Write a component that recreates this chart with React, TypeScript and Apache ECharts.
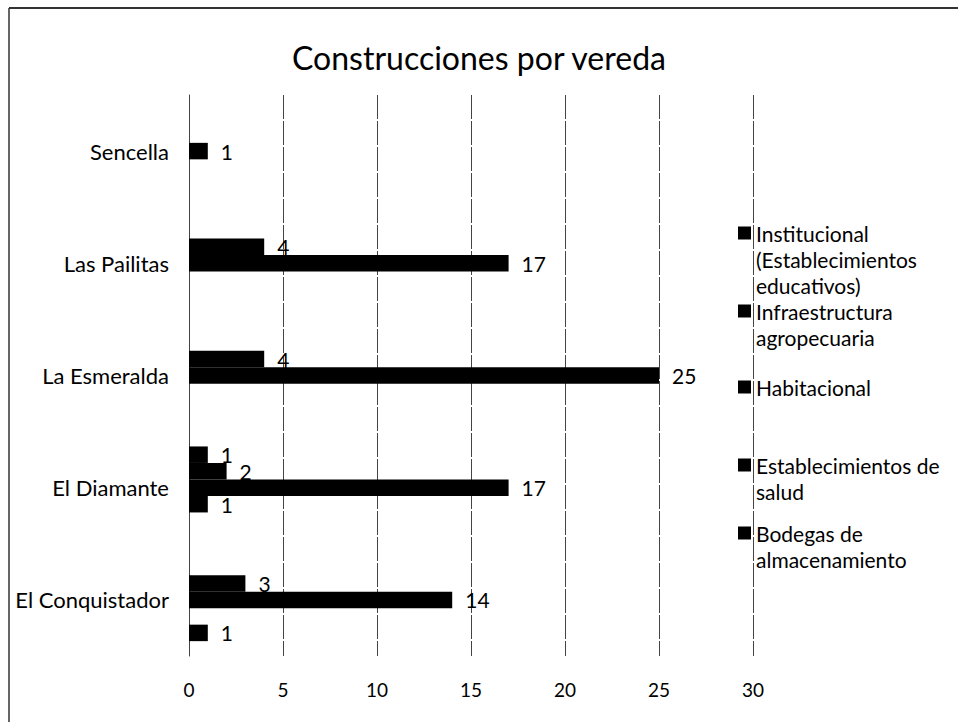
import React, { useEffect, useRef } from "react";
import * as echarts from "echarts";

const categories = ["El Conquistador", "El Diamante", "La Esmeralda", "Las Pailitas", "Sencella"];
const institucional = [0, 1, 0, 0, 0];
const infraestructura = [3, 2, 4, 4, 0];
const habitacional = [14, 17, 25, 17, 1];
const salud = [0, 1, 0, 0, 0];
const bodegas = [1, 0, 0, 0, 0];
const xTicks = [0, 5, 10, 15, 20, 25, 30];

const seriesNames = [
  "Institucional (Establecimientos educativos)",
  "Infraestructura agropecuaria",
  "Habitacional",
  "Establecimientos de salud",
  "Bodegas de almacenamiento",
];
const legendLines = [
  ["Institucional", "(Establecimientos", "educativos)"],
  ["Infraestructura", "agropecuaria"],
  ["Habitacional"],
  ["Establecimientos de", "salud"],
  ["Bodegas de", "almacenamiento"],
];
const seriesValues = [institucional, infraestructura, habitacional, salud, bodegas];

const FONT = "Lato";
const LH = 26;
const LEG_FS = 21;
const legendCenters = [233, 311, 387, 465, 533];
const LEG_LEFT = 738;
const LEG_ICON = 13;

export default function App() {
  const ref = useRef<HTMLDivElement>(null);
  useEffect(() => {
    if (!ref.current) return;
    const chart = echarts.init(ref.current, null, { renderer: "svg" });
    const series = seriesNames.map((name, i) => ({
      name,
      type: "bar",
      data: seriesValues[i].map((v) => (v === 0 ? "-" : v)),
      barWidth: 16.5,
      barGap: "0%",
      itemStyle: { color: "#000" },
      label: {
        show: true,
        position: "right",
        distance: 13,
        color: "#000",
        fontFamily: FONT,
        fontSize: 21,
      },
    }));
    const legends = seriesNames.map((name, i) => ({
      data: [name],
      left: LEG_LEFT,
      top: legendCenters[i] - LH / 2,
      orient: "vertical",
      padding: 0,
      itemWidth: LEG_ICON,
      itemHeight: LEG_ICON,
      icon: "rect",
      selectedMode: false,
      formatter: () => legendLines[i][0],
      textStyle: { fontFamily: FONT, fontSize: LEG_FS, color: "#000", lineHeight: LH },
    }));
    const extraLines: any[] = [];
    legendLines.forEach((lines, i) => {
      lines.slice(1).forEach((t, k) => {
        extraLines.push({
          type: "text",
          x: LEG_LEFT + LEG_ICON + 5,
          y: legendCenters[i] + (k + 1) * LH,
          style: {
            text: t,
            fontFamily: FONT,
            fontSize: LEG_FS,
            fill: "#000",
            verticalAlign: "middle",
            align: "left",
          },
        });
      });
    });
    chart.setOption({
      animation: false,
      backgroundColor: "#fff",
      title: {
        text: "Construcciones por vereda",
        left: "center",
        top: 36,
        textStyle: { fontFamily: FONT, fontSize: 32, fontWeight: "normal", color: "#000" },
      },
      legend: legends,
      grid: { left: 189, right: 205, top: 95, bottom: 66 },
      xAxis: {
        type: "value",
        min: xTicks[0],
        max: xTicks[xTicks.length - 1],
        interval: 5,
        axisLine: { show: false },
        axisTick: { show: false },
        axisLabel: { color: "#000", fontFamily: FONT, fontSize: 19, margin: 24 },
        splitLine: { show: true, lineStyle: { color: "#444", width: 1, type: [24, 2] } },
      },
      yAxis: {
        type: "category",
        data: categories,
        axisLine: { show: true, lineStyle: { color: "#444", width: 1, type: [24, 2] } },
        axisTick: { show: false },
        axisLabel: { color: "#000", fontFamily: FONT, fontSize: 22, margin: 20 },
        splitLine: { show: false },
      },
      graphic: [
        { type: "line", shape: { x1: 9, y1: 8, x2: 958, y2: 8 }, style: { stroke: "#333", lineWidth: 2 } },
        { type: "line", shape: { x1: 9, y1: 8, x2: 9, y2: 722 }, style: { stroke: "#333", lineWidth: 1.5 } },
        ...extraLines,
      ],
      series,
    });
    return () => chart.dispose();
  }, []);
  return (
    <div
      ref={ref}
      style={{ position: "fixed", left: 0, top: 0, width: 958, height: 722 }}
    />
  );
}
